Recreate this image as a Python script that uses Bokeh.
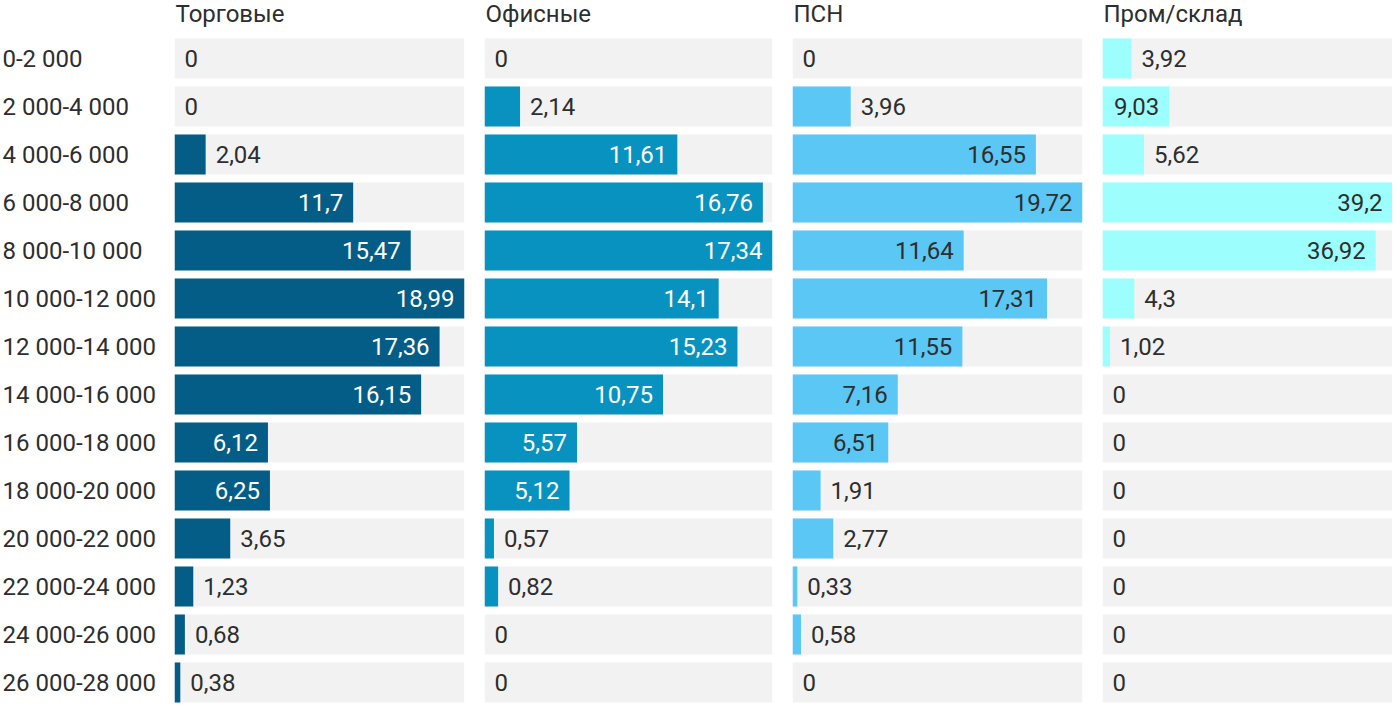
from bokeh.plotting import figure
from bokeh.layouts import row
from bokeh.models import Range1d, ColumnDataSource
from bokeh.core.properties import value
from bokeh.embed import file_html
from bokeh.resources import INLINE

categories = ["0-2 000", "2 000-4 000", "4 000-6 000", "6 000-8 000", "8 000-10 000",
              "10 000-12 000", "12 000-14 000", "14 000-16 000", "16 000-18 000",
              "18 000-20 000", "20 000-22 000", "22 000-24 000", "24 000-26 000",
              "26 000-28 000"]
titles = ["Торговые", "Офисные", "ПСН", "Пром/склад"]
torg = [0, 0, 2.04, 11.7, 15.47, 18.99, 17.36, 16.15, 6.12, 6.25, 3.65, 1.23, 0.68, 0.38]
ofis = [0, 2.14, 11.61, 16.76, 17.34, 14.1, 15.23, 10.75, 5.57, 5.12, 0.57, 0.82, 0, 0]
psn = [0, 3.96, 16.55, 19.72, 11.64, 17.31, 11.55, 7.16, 6.51, 1.91, 2.77, 0.33, 0.58, 0]
prom = [3.92, 9.03, 5.62, 39.2, 36.92, 4.3, 1.02, 0, 0, 0, 0, 0, 0, 0]

series = [torg, ofis, psn, prom]
colors = ["#045d86", "#0892bf", "#5bc7f4", "#9dfefe"]
inside_text = ["#ffffff", "#ffffff", "#2e2e2e", "#2e2e2e"]
frame_widths = [290, 288, 290, 290]
gaps = [20, 20, 20, 0]

FONT = value("Roboto")
FS = "24px"
DARK = "#2e2e2e"
BG = "#f2f2f2"
ROW_PX = 48
TOP_PX = 58
HEIGHT = 710
n = len(categories)
ys = list(range(n))
y_top = -TOP_PX / ROW_PX
y_bottom = y_top + HEIGHT / ROW_PX
bar_h = 40 / ROW_PX
TEXT_DY = 0


def fmt(v):
    if v == int(v):
        return str(int(v))
    return ("%g" % v).replace(".", ",")


def text_px(s):
    w = 0
    for ch in s:
        w += 4.7 if ch == "," else 13.5
    return w


def base_fig(width, border_right, x_end):
    p = figure(width=width, height=HEIGHT, output_backend="svg", toolbar_location=None,
               x_range=Range1d(0, x_end), y_range=Range1d(y_bottom, y_top),
               x_axis_location=None, y_axis_location=None,
               min_border_left=0, min_border_right=border_right,
               min_border_top=0, min_border_bottom=0)
    p.outline_line_color = None
    p.xgrid.visible = False
    p.ygrid.visible = False
    p.background_fill_color = None
    p.border_fill_color = None
    return p


# category labels column
lab = base_fig(174, 0, 174)
lab.text(x=[0] * n, y=ys, text=categories, text_font=FONT, text_font_size=FS,
         text_color=DARK, text_align="left", text_baseline="alphabetic",
         x_offset=2, y_offset=TEXT_DY)

figs = [lab]
for k in range(4):
    vals = series[k]
    vmax = max(vals)
    fw = frame_widths[k]
    p = base_fig(fw + gaps[k], gaps[k], vmax)
    px_per = fw / vmax
    p.hbar(y=ys, left=0, right=[vmax] * n, height=bar_h, color=BG, line_color=None)
    p.hbar(y=ys, left=0, right=vals, height=bar_h, color=colors[k], line_color=None)

    labels = [fmt(v) for v in vals]
    inside = [v * px_per >= text_px(s) + 20 for v, s in zip(vals, labels)]
    src_in = ColumnDataSource(dict(x=[v for v, i in zip(vals, inside) if i],
                                   y=[y for y, i in zip(ys, inside) if i],
                                   t=[s for s, i in zip(labels, inside) if i]))
    src_out = ColumnDataSource(dict(x=[v for v, i in zip(vals, inside) if not i],
                                    y=[y for y, i in zip(ys, inside) if not i],
                                    t=[s for s, i in zip(labels, inside) if not i]))
    p.text(x="x", y="y", text="t", source=src_in, text_font=FONT, text_font_size=FS,
           text_color=inside_text[k], text_align="right", text_baseline="alphabetic",
           x_offset=-10, y_offset=TEXT_DY)
    p.text(x="x", y="y", text="t", source=src_out, text_font=FONT, text_font_size=FS,
           text_color=DARK, text_align="left", text_baseline="alphabetic",
           x_offset=10, y_offset=TEXT_DY)
    p.text(x=[0], y=[y_top], text=[titles[k]], text_font=FONT, text_font_size=FS,
           text_color=DARK, text_align="left", text_baseline="alphabetic",
           x_offset=1, y_offset=13.5)
    figs.append(p)

layout = row(*figs, spacing=0)
open("out.html", "w").write(file_html(layout, INLINE))
